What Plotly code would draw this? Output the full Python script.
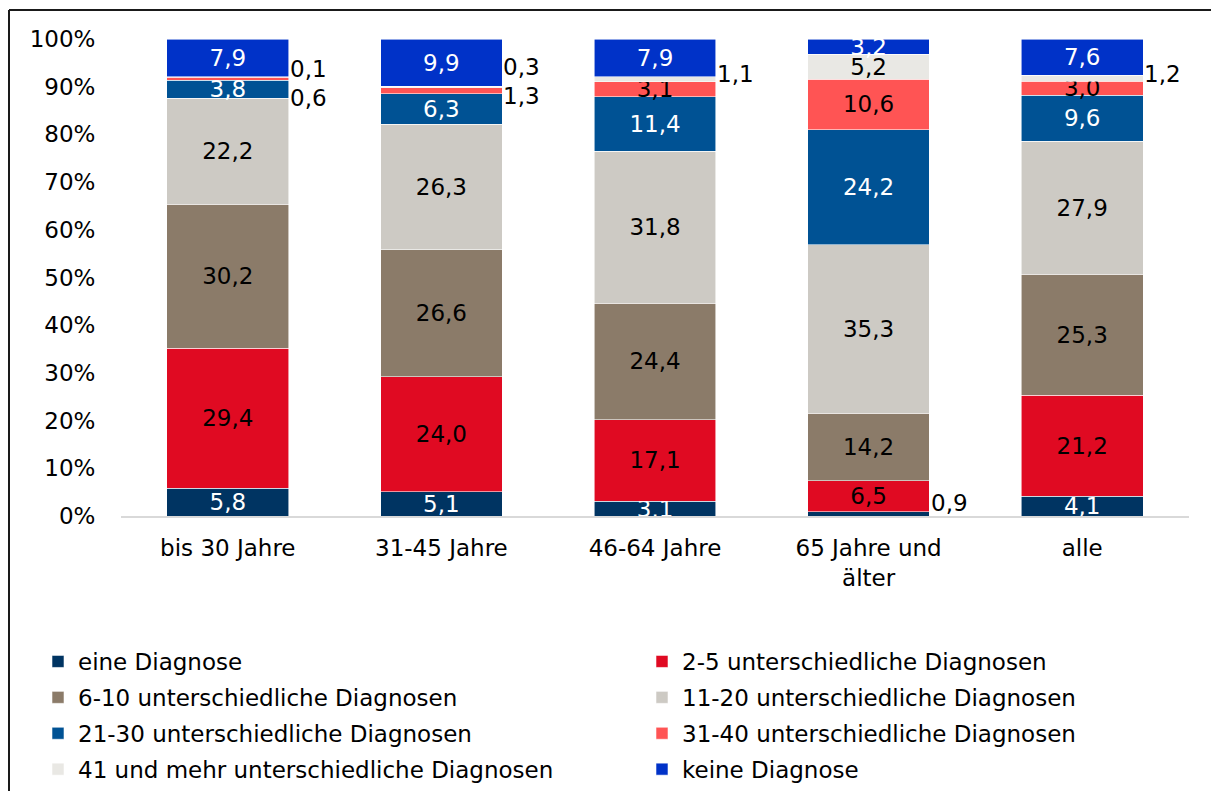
import plotly.graph_objects as go

categories = ["bis 30 Jahre", "31-45 Jahre", "46-64 Jahre", "65 Jahre und<br>älter", "alle"]

series_names = [
    "eine Diagnose",
    "2-5 unterschiedliche Diagnosen",
    "6-10 unterschiedliche Diagnosen",
    "11-20 unterschiedliche Diagnosen",
    "21-30 unterschiedliche Diagnosen",
    "31-40 unterschiedliche Diagnosen",
    "41 und mehr unterschiedliche Diagnosen",
    "keine Diagnose",
]

eine = [5.8, 5.1, 3.1, 0.9, 4.1]
d2_5 = [29.4, 24.0, 17.1, 6.5, 21.2]
d6_10 = [30.2, 26.6, 24.4, 14.2, 25.3]
d11_20 = [22.2, 26.3, 31.8, 35.3, 27.9]
d21_30 = [3.8, 6.3, 11.4, 24.2, 9.6]
d31_40 = [0.6, 1.3, 3.1, 10.6, 3.0]
d41 = [0.1, 0.3, 1.1, 5.2, 1.2]
keine = [7.9, 9.9, 7.9, 3.2, 7.6]

values = [eine, d2_5, d6_10, d11_20, d21_30, d31_40, d41, keine]

y_ticks = list(range(0, 101, 10))
y_tick_labels = [f"{v}%" for v in y_ticks]

colors = ["#003462", "#E00A22", "#8B7B69", "#CDCAC4", "#005294", "#FF5454", "#E9E8E4", "#0032C8"]
text_colors = ["white", "black", "black", "black", "white", "black", "black", "white"]

# labels drawn beside the bar: (category index, series index, vertical pixel shift)
outside_labels = [(0, 6, 8), (0, 5, -19), (1, 6, 20), (1, 5, -5), (2, 6, 5), (3, 0, 11), (4, 6, 4)]
outside_set = {(c, s) for c, s, _ in outside_labels}

FONT = "DejaVu Sans"
FS = 23

def fmt(v):
    return f"{v:.1f}".replace(".", ",")

fig = go.Figure()
col1 = [0, 2, 4, 6]
for si, (name, vals) in enumerate(zip(series_names, values)):
    texts = ["" if (ci, si) in outside_set else fmt(v) for ci, v in enumerate(vals)]
    fig.add_trace(go.Bar(
        name=name,
        x=categories,
        y=vals,
        text=texts,
        textposition="inside",
        insidetextanchor="middle",
        constraintext="none",
        textangle=0,
        textfont=dict(family=FONT, size=FS, color=text_colors[si]),
        marker=dict(color=colors[si], line=dict(color="rgba(255,255,255,0.7)", width=0.8)),
        legend="legend" if si in col1 else "legend2",
        legendgroup=name,
        hoverinfo="skip",
    ))

totals = [sum(values[s][c] for s in range(len(values))) for c in range(len(categories))]
for ci, si, ys in outside_labels:
    below = sum(values[s][ci] for s in range(si))
    y = (below + values[si][ci] / 2) / totals[ci] * 100
    fig.add_annotation(
        x=categories[ci], y=y, text=fmt(values[si][ci]),
        showarrow=False, xanchor="left", yanchor="middle",
        xshift=60, yshift=ys,
        font=dict(family=FONT, size=FS, color="black"),
    )

# body margin removed below, so these are window pixels
L, T = 121, 39
W, H = 1211, 791
pw, ph = 1068, 477
R, B = W - L - pw, H - T - ph

def px_x(p):
    return (p - L) / pw

def px_y(p):
    return (T + ph - p) / ph

frame = dict(color="#1a1a1a", width=2)
fig.add_shape(type="line", xref="paper", yref="paper",
              x0=px_x(9), x1=px_x(W + 60), y0=px_y(10), y1=px_y(10), line=frame, layer="above")
fig.add_shape(type="line", xref="paper", yref="paper",
              x0=px_x(9), x1=px_x(9), y0=px_y(10), y1=px_y(H + 60), line=frame, layer="above")

legend_common = dict(
    orientation="v", xref="paper", yref="paper",
    xanchor="left", yanchor="top", traceorder="grouped", tracegroupgap=3,
    font=dict(family=FONT, size=FS, color="black"), bgcolor="rgba(0,0,0,0)",
    itemclick=False, itemdoubleclick=False,
)

fig.update_layout(
    width=W, height=H,
    margin=dict(l=L, r=R, t=T, b=B, autoexpand=False),
    barmode="stack", barnorm="percent", bargap=0.43,
    plot_bgcolor="white", paper_bgcolor="white",
    font=dict(family=FONT, size=FS, color="black"),
    showlegend=True,
    legend=dict(x=px_x(38), y=px_y(640), **legend_common),
    legend2=dict(x=px_x(642), y=px_y(640), **legend_common),
    xaxis=dict(
        showline=True, linecolor="#D9D9D9", linewidth=2, showgrid=False,
        ticks="outside", ticklen=10, tickcolor="rgba(0,0,0,0)",
        tickfont=dict(family=FONT, size=FS, color="black"),
    ),
    yaxis=dict(
        range=[0, 100], tickvals=y_ticks, ticktext=y_tick_labels,
        showgrid=False, showline=False, zeroline=False,
        ticks="outside", ticklen=20, tickcolor="rgba(0,0,0,0)",
        tickfont=dict(family=FONT, size=FS, color="black"),
    ),
)

fig.write_html(
    "out.html",
    config={"displayModeBar": False},
    post_script="document.body.style.margin='0';document.body.style.overflow='hidden';",
)
